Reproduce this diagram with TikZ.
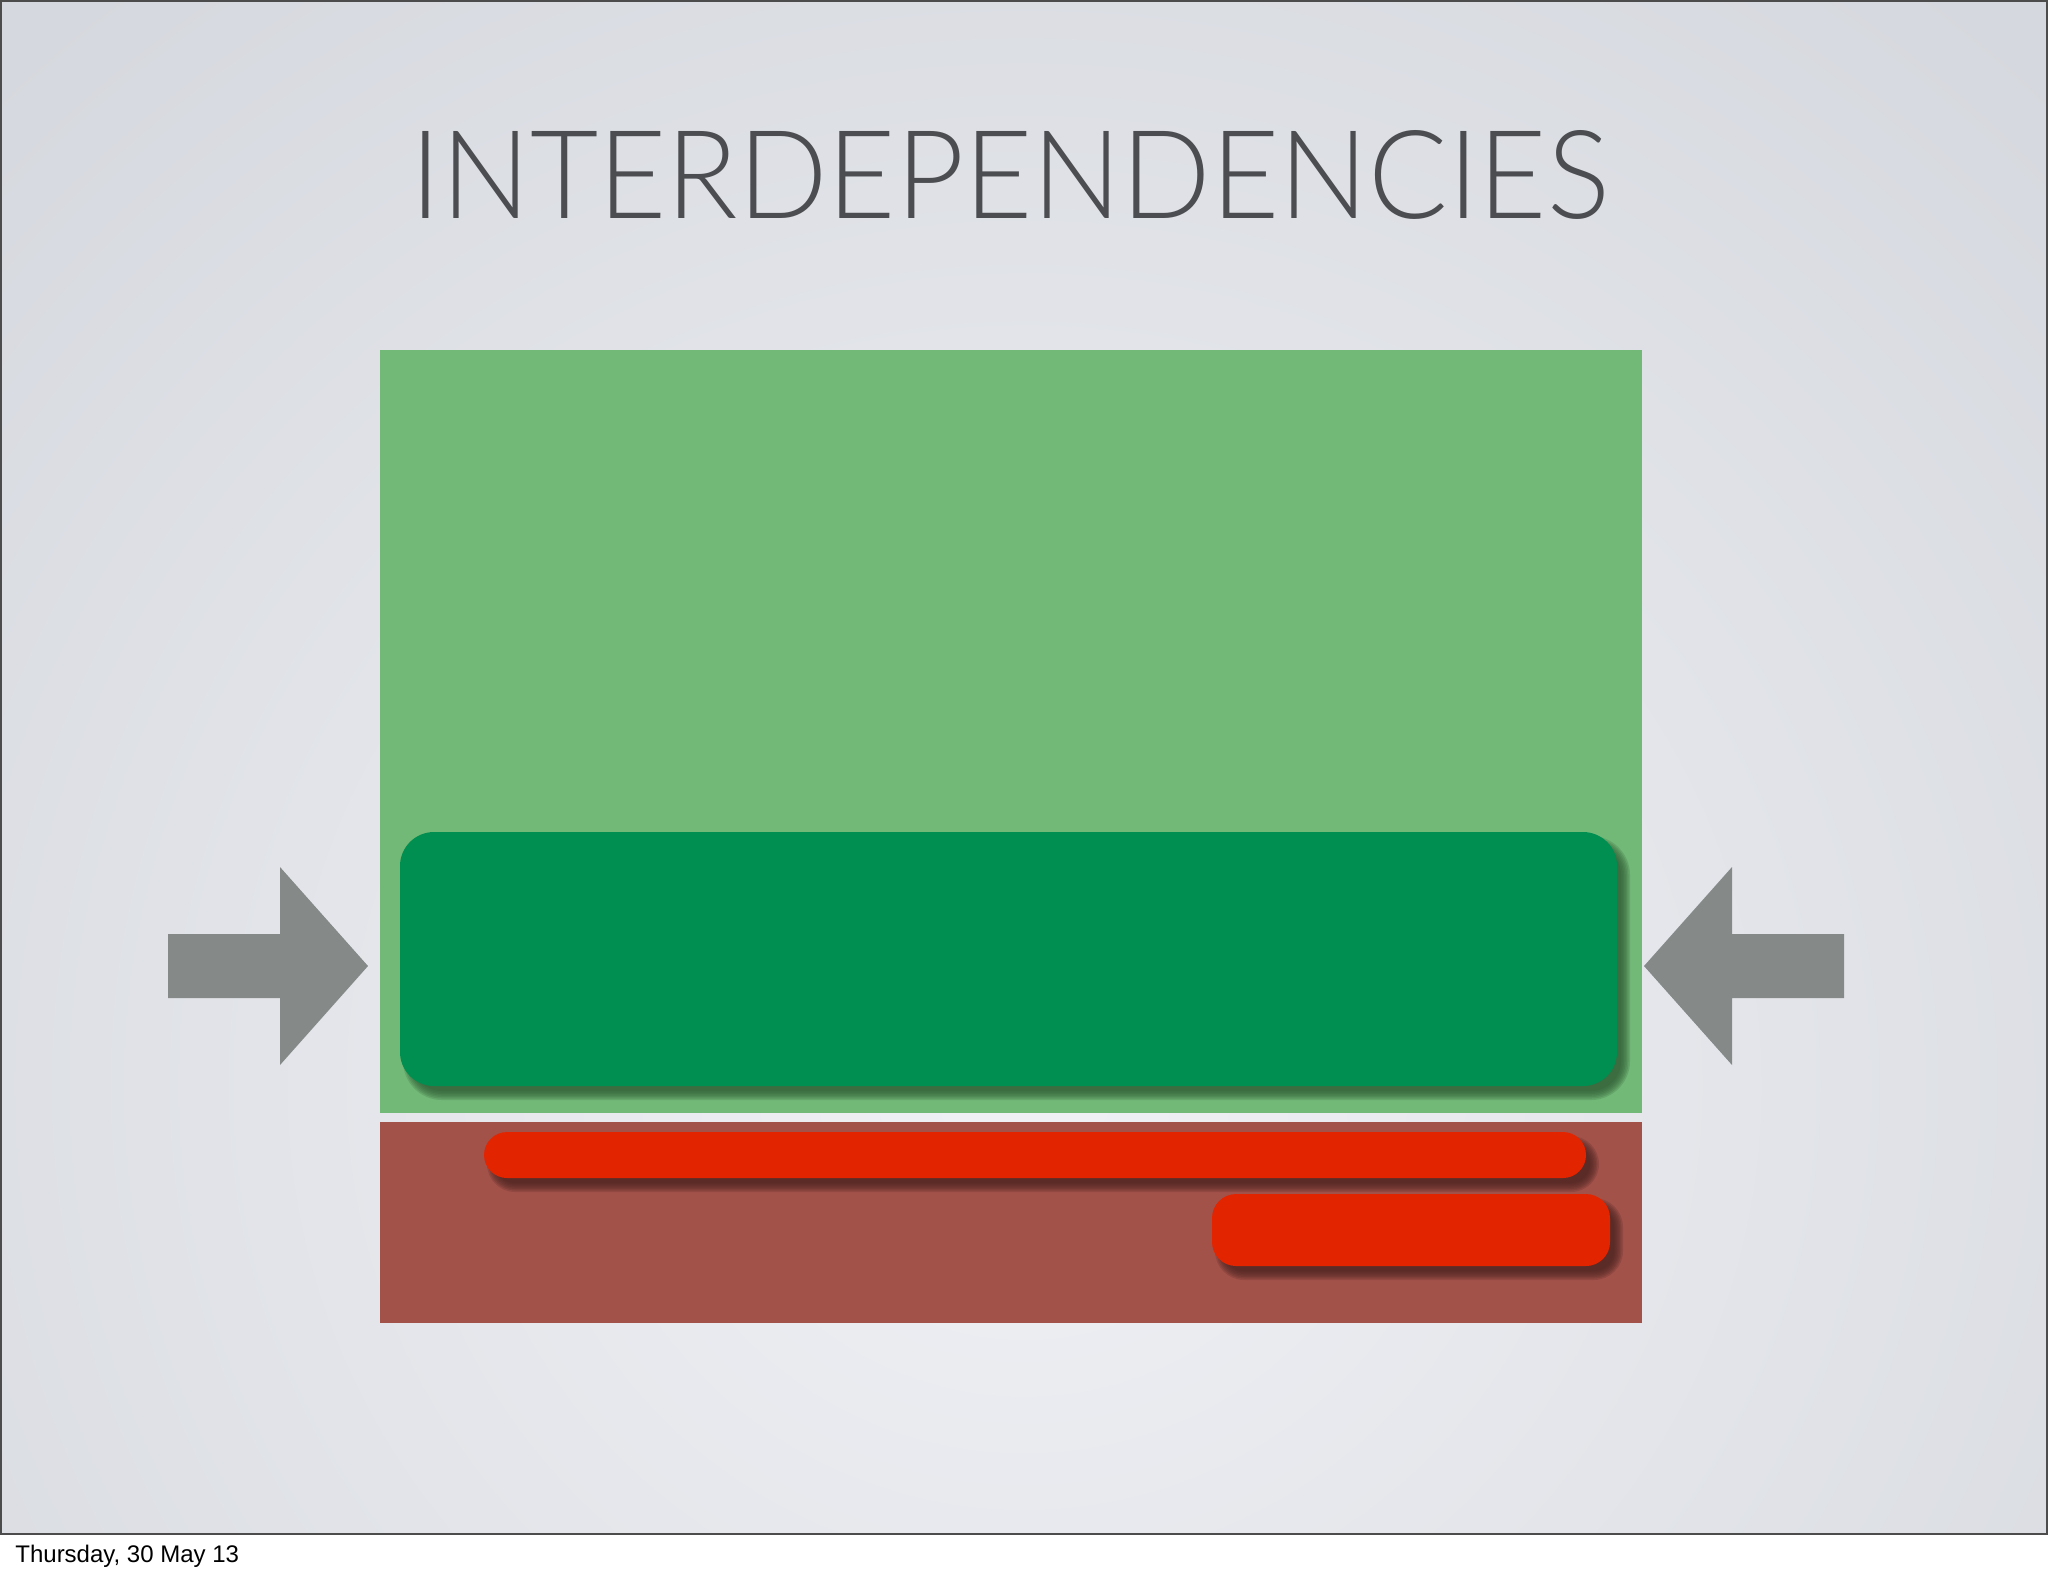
\documentclass[tikz,border=0pt]{standalone}
\usepackage{fontspec}
\setmainfont{Liberation Sans}
\newfontfamily\titlefont{Lato Light}
\usepackage{graphicx}
\definecolor{bginner}{HTML}{F0F1F5}
\definecolor{bgouter}{HTML}{D5D8DE}
\definecolor{titlegray}{HTML}{4B4D51}
\definecolor{lightgreen}{HTML}{72B877}
\definecolor{darkgreen}{HTML}{008F50}
\definecolor{brickred}{HTML}{A3524A}
\definecolor{barred}{HTML}{E22400}
\definecolor{arrowgray}{HTML}{858987}
\definecolor{greenshadow}{HTML}{2F5A35}
\definecolor{redshadow}{HTML}{4A2220}
\newcommand\softshadow[6]{%
  \foreach \e in {5,3.5,2,0.5,-1,-2.5,-4}{%
    \pgfmathsetmacro\rr{max(#5+0.5*\e,0.5)}%
    \fill[#6, opacity=0.2, rounded corners=\rr pt]
      ({#1+8-\e},{#2+9-\e}) rectangle ({#3+8+\e},{#4+9+\e});
  }%
}
\tikzset{
  slidetitle/.style={anchor=south west, inner sep=0pt, text=titlegray},
  blockarrow/.style={fill=arrowgray},
  datetext/.style={anchor=base west, inner sep=0pt, font=\fontsize{12}{14}\selectfont}
}
\begin{document}
\begin{tikzpicture}[x=0.5pt,y=-0.5pt]
\useasboundingbox (0,0) rectangle (2048,1576);
\fill[white] (0,0) rectangle (2048,1576);
% slide background
\begin{scope}
\clip (0,0) rectangle (2048,1534);
\shade[inner color=bginner, outer color=bgouter] (-450,-330) rectangle (2498,2500);
\end{scope}
\draw[line width=1pt, draw=black!70] (1,1) rectangle (2047,1534);
% title
\node[slidetitle] (title) at (410,220) {\resizebox{599.5pt}{44pt}{\titlefont INTERDEPENDENCIES}};
% big green area
\fill[lightgreen] (380,350) rectangle (1642,1113);
% brick red area
\fill[brickred] (380,1122) rectangle (1642,1323);
% dark green rounded box
\softshadow{400}{832}{1617}{1086}{17}{greenshadow}
\fill[darkgreen, rounded corners=17pt] (400,832) rectangle (1617,1086);
% red bars
\softshadow{484}{1132}{1586}{1178}{11.5}{redshadow}
\fill[barred, rounded corners=11.5pt] (484,1132) rectangle (1586,1178);
\softshadow{1212}{1194}{1610}{1266}{12}{redshadow}
\fill[barred, rounded corners=12pt] (1212,1194) rectangle (1610,1266);
% left arrow
\fill[blockarrow] (168,934) -- (280,934) -- (280,867) -- (368,966) -- (280,1065) -- (280,998) -- (168,998) -- cycle;
% right arrow
\fill[blockarrow] (1844,934) -- (1732,934) -- (1732,867) -- (1644,966) -- (1732,1065) -- (1732,998) -- (1844,998) -- cycle;
% date
\node[datetext] (date) at (15,1562) {Thursday, 30 May 13};
\end{tikzpicture}
\end{document}
